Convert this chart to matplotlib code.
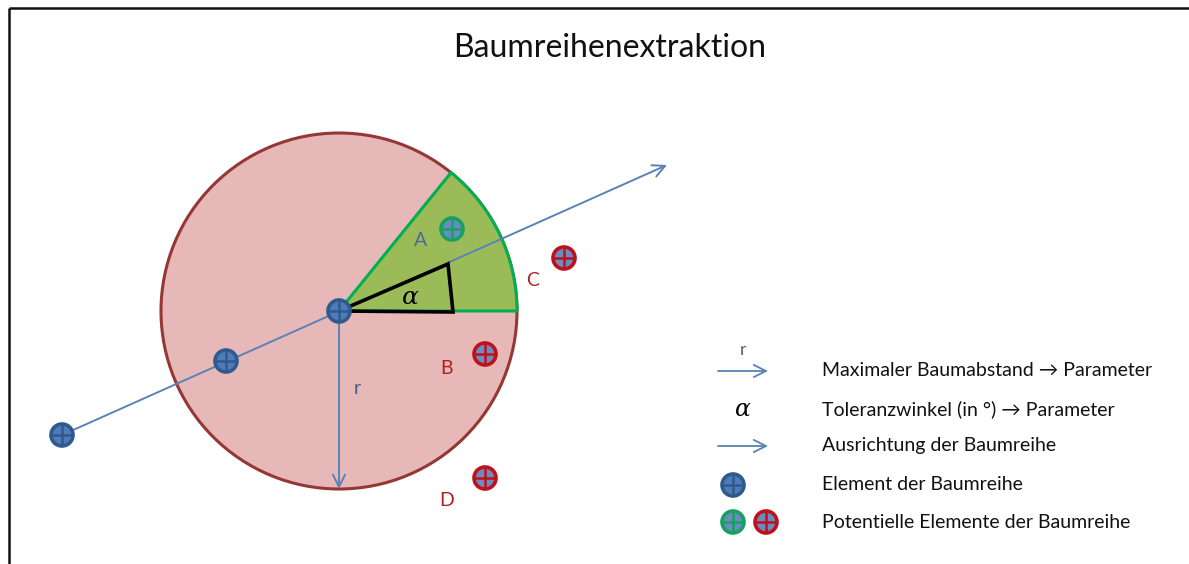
import numpy as np
import matplotlib
matplotlib.use("Agg")
import matplotlib.pyplot as plt
from matplotlib.patches import Circle, Wedge, Polygon

plt.rcParams['font.family'] = ['Lato', 'DejaVu Sans']
plt.rcParams['mathtext.fontset'] = 'dejavuserif'

# scene in pixel units (y grows downward)
CENTER = (339, 311)
RADIUS = 178
SECTOR_ANGLES = (0, 51)          # tolerance sector in degrees
ALPHA_TRIANGLE = [(339, 311), (448, 264), (453, 312)]
ROW_START = (62, 435)
ROW_END = (667, 165)

row_elements = [(339, 311), (226, 361), (62, 435)]
green_candidates = [(452, 229)]
red_candidates = [(564, 258), (485, 354), (485, 478)]

point_labels = ['A', 'B', 'C', 'D']
label_pos = [(421, 240), (447, 369), (533, 280), (447, 500)]
label_colors = ['#4a6a9a', '#b02020', '#b02020', '#b02020']

legend_texts = ['Maximaler Baumabstand \u2192 Parameter',
                'Toleranzwinkel (in \u00b0) \u2192 Parameter',
                'Ausrichtung der Baumreihe',
                'Element der Baumreihe',
                'Potentielle Elemente der Baumreihe']
legend_y = [371, 409, 446, 485, 522]

BLUE = '#4f7cb8'
BLUE_DARK = '#2f5a8e'
LINE_BLUE = '#5b82b5'


def draw_marker(ax, x, y, ring, fill, size=11):
    ax.add_patch(Circle((x, y), size, facecolor=fill, edgecolor=ring, lw=2.6, zorder=6))
    ax.plot([x - size, x + size], [y, y], color=ring, lw=1.8, zorder=7, solid_capstyle='butt')
    ax.plot([x, x], [y - size, y + size], color=ring, lw=1.8, zorder=7, solid_capstyle='butt')


fig = plt.figure(figsize=(11.89, 5.64), dpi=100)
ax = fig.add_axes([0, 0, 1, 1])
ax.set_xlim(0, 1189)
ax.set_ylim(564, 0)
ax.axis('off')

# frame (top and left only)
ax.plot([8.5, 1189], [7.5, 7.5], color='#111111', lw=1.8, solid_capstyle='butt')
ax.plot([8.5, 8.5], [7.5, 564], color='#111111', lw=1.8, solid_capstyle='butt')

ax.text(610, 48, 'Baumreihenextraktion', fontsize=23, ha='center', va='center', color='#111111')

# search circle
ax.add_patch(Circle(CENTER, RADIUS, facecolor='#e6b9b8', edgecolor='#953735', lw=2.2, zorder=1))
# tolerance sector (angles flipped because y axis is inverted)
ax.add_patch(Wedge(CENTER, RADIUS, -SECTOR_ANGLES[1], -SECTOR_ANGLES[0],
                   facecolor='#9bbb59', edgecolor='#00b050', lw=2.2, zorder=2))
ax.add_patch(Polygon(ALPHA_TRIANGLE, closed=True, fill=False, edgecolor='black', lw=2.6,
                     joinstyle='miter', zorder=4))
ax.text(410, 296, r'$\alpha$', fontsize=18, ha='center', va='center', zorder=5)

# row direction
ax.annotate('', xy=ROW_END, xytext=ROW_START,
            arrowprops=dict(arrowstyle='->', color=LINE_BLUE, lw=1.4,
                            mutation_scale=22, shrinkA=0, shrinkB=0), zorder=3)
# radius arrow
ax.annotate('', xy=(CENTER[0], CENTER[1] + RADIUS), xytext=CENTER,
            arrowprops=dict(arrowstyle='->', color=LINE_BLUE, lw=1.4,
                            mutation_scale=22, shrinkA=0, shrinkB=0), zorder=3)
ax.text(357, 388, 'r', fontsize=14, color='#4a5a7a', ha='center', va='center')

for x, y in row_elements:
    draw_marker(ax, x, y, BLUE_DARK, BLUE)
for x, y in green_candidates:
    draw_marker(ax, x, y, '#17a060', '#6a8cc0')
for x, y in red_candidates:
    draw_marker(ax, x, y, '#c0101a', '#6a8cc0')

for lab, (x, y), c in zip(point_labels, label_pos, label_colors):
    ax.text(x, y, lab, fontsize=14, color=c, ha='center', va='center')

# legend
ax.annotate('', xy=(768, legend_y[0]), xytext=(718, legend_y[0]),
            arrowprops=dict(arrowstyle='->', color=LINE_BLUE, lw=1.3,
                            mutation_scale=22, shrinkA=0, shrinkB=0))
ax.text(743, 350, 'r', fontsize=13, color='#4a5a7a', ha='center', va='center')
ax.text(743, legend_y[1], r'$\alpha$', fontsize=17, ha='center', va='center')
ax.annotate('', xy=(768, legend_y[2]), xytext=(718, legend_y[2]),
            arrowprops=dict(arrowstyle='->', color=LINE_BLUE, lw=1.3,
                            mutation_scale=22, shrinkA=0, shrinkB=0))
draw_marker(ax, 733, legend_y[3], BLUE_DARK, BLUE)
draw_marker(ax, 733, legend_y[4], '#17a060', '#6a8cc0')
draw_marker(ax, 766, legend_y[4], '#c0101a', '#6a8cc0')

for t, y in zip(legend_texts, legend_y):
    ax.text(822, y, t, fontsize=14, color='#111111', ha='left', va='center')

fig.savefig('out.png', dpi=100)
